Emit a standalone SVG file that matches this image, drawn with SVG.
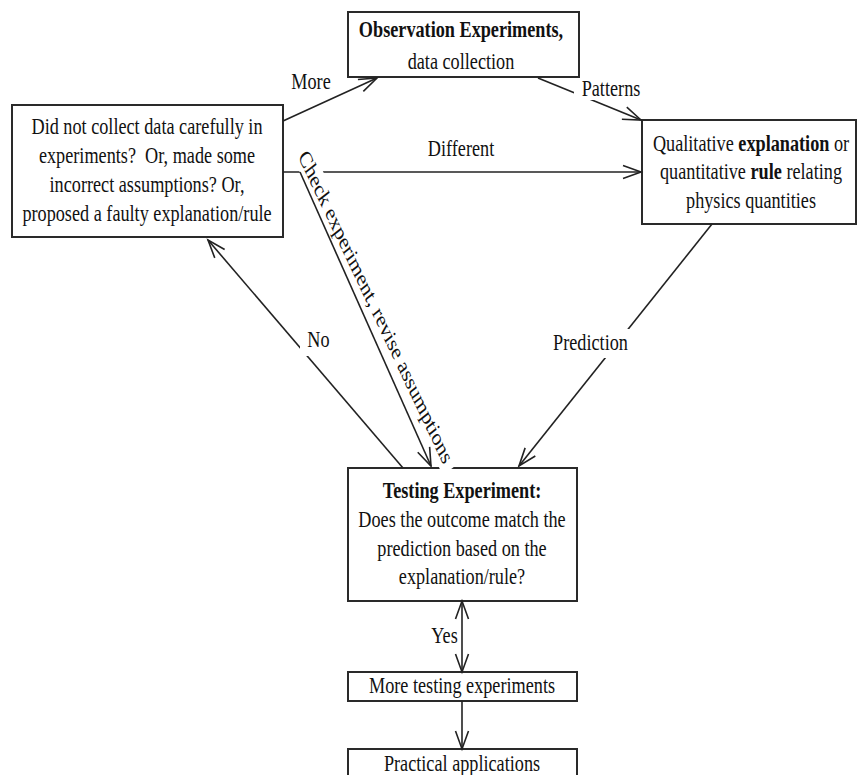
<svg xmlns="http://www.w3.org/2000/svg" width="861" height="775" viewBox="0 0 861 775">
<style>
.box{fill:#fff;stroke:#2a2a2a;stroke-width:2}
.t{font-family:"Liberation Serif","Times New Roman",serif;font-size:23.5px;fill:#111;text-anchor:middle}
.b{font-weight:bold}
.ln{fill:none;stroke:#222;stroke-width:1.6}
.lbg{fill:#fff}
</style>
<defs>
<marker id="arr" viewBox="-20 -8 22 16" markerWidth="22" markerHeight="16" refX="0" refY="0" orient="auto-start-reverse" markerUnits="userSpaceOnUse" overflow="visible">
<path d="M-18,-6.5 L0,0 L-18,6.5" fill="none" stroke="#222" stroke-width="1.6"/>
</marker>
</defs>
<rect width="861" height="775" fill="#fff"/>
<g id="nodes">
<g id="observation">
<rect class="box" x="348" y="12" width="231" height="65"/>
<g transform="translate(461,0) scale(0.775,1)"><text class="t"><tspan class="b" x="0" y="37.5">Observation Experiments,</tspan><tspan x="0" y="69">data collection</tspan></text></g>
</g>
<g id="mistakes">
<rect class="box" x="12" y="105" width="271" height="132"/>
<g transform="translate(147,0) scale(0.775,1)"><text class="t"><tspan x="0" y="134.5">Did not collect data carefully in</tspan><tspan x="0" y="163.5">experiments?&#160; Or, made some</tspan><tspan x="0" y="192.5">incorrect assumptions? Or,</tspan><tspan x="0" y="221.5">proposed a faulty explanation/rule</tspan></text></g>
</g>
<g id="explanation">
<rect class="box" x="642" y="120" width="214" height="104"/>
<g transform="translate(751,0) scale(0.775,1)"><text class="t"><tspan x="0" y="151">Qualitative <tspan class="b">explanation</tspan> or</tspan><tspan x="0" y="179.5">quantitative <tspan class="b">rule</tspan> relating</tspan><tspan x="0" y="208">physics quantities</tspan></text></g>
</g>
<g id="testing">
<rect class="box" x="348" y="468" width="229" height="133"/>
<g transform="translate(462,0) scale(0.775,1)"><text class="t"><tspan class="b" x="0" y="498.5">Testing Experiment:</tspan><tspan x="0" y="527.5">Does the outcome match the</tspan><tspan x="0" y="556">prediction based on the</tspan><tspan x="0" y="584.5">explanation/rule?</tspan></text></g>
</g>
<g id="more-testing">
<rect class="box" x="348" y="672" width="229" height="29"/>
<g transform="translate(462,0) scale(0.775,1)"><text class="t" x="0" y="693">More testing experiments</text></g>
</g>
<g id="practical">
<rect class="box" x="348" y="749" width="229" height="45"/>
<g transform="translate(462,0) scale(0.775,1)"><text class="t" x="0" y="771">Practical applications</text></g>
</g>
</g>
<g id="connectors">
<line class="ln" x1="283" y1="121" x2="377" y2="78" marker-end="url(#arr)"/>
<line class="ln" x1="538" y1="78" x2="641" y2="120" marker-end="url(#arr)"/>
<line class="ln" x1="283" y1="172" x2="641" y2="172" marker-end="url(#arr)"/>
<line class="ln" x1="403" y1="468" x2="208" y2="240" marker-end="url(#arr)"/>
<line class="ln" x1="712" y1="224" x2="519" y2="466" marker-end="url(#arr)"/>
<line class="ln" x1="462" y1="601" x2="462" y2="672" marker-start="url(#arr)" marker-end="url(#arr)"/>
<line class="ln" x1="462" y1="701" x2="462" y2="749" marker-end="url(#arr)"/>
<g id="lbl-more"><g transform="translate(311,0) scale(0.775,1)"><text class="t" x="0" y="89.5">More</text></g></g>
<g id="lbl-patterns"><rect class="lbg" x="574" y="80" width="70" height="20"/><g transform="translate(611,0) scale(0.775,1)"><text class="t" x="0" y="96.5">Patterns</text></g></g>
<g id="lbl-different"><g transform="translate(461,0) scale(0.775,1)"><text class="t" x="0" y="156.5">Different</text></g></g>
<g id="lbl-no"><rect class="lbg" x="300" y="326" width="34" height="30"/><g transform="translate(318.5,0) scale(0.775,1)"><text class="t" x="0" y="347.5">No</text></g></g>
<g id="lbl-prediction"><rect class="lbg" x="550" y="329" width="82" height="29"/><g transform="translate(590.5,0) scale(0.775,1)"><text class="t" x="0" y="350.5">Prediction</text></g></g>
<g id="lbl-yes"><g transform="translate(444.5,0) scale(0.775,1)"><text class="t" x="0" y="643.5">Yes</text></g></g>
<g id="lbl-check" transform="scale(0.775,1) translate(478.3,310.9) rotate(58.65)"><rect class="lbg" x="-189" y="-20" width="378" height="26"/><text class="t" x="0" y="0">Check experiment, revise assumptions</text></g>
<line class="ln" x1="300" y1="172" x2="431" y2="466" marker-end="url(#arr)"/>
</g>
</svg>
